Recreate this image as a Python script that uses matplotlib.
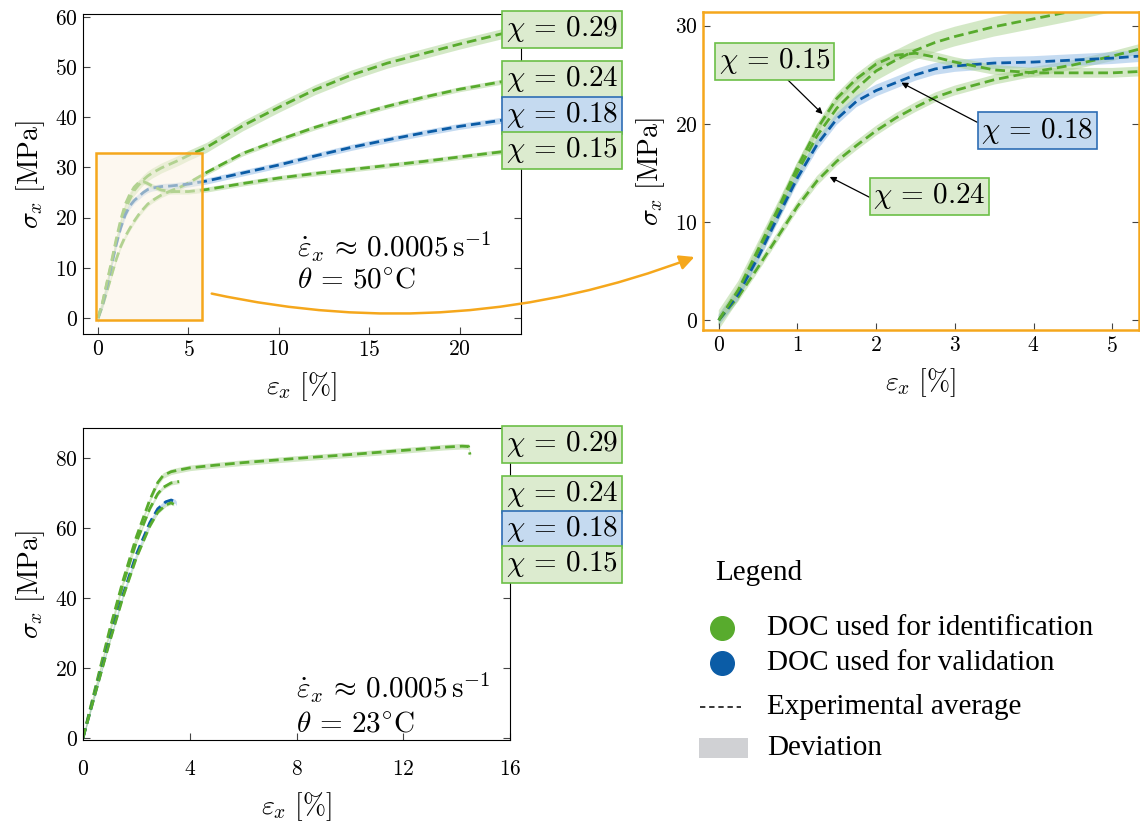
import matplotlib
matplotlib.use("Agg")
import matplotlib.pyplot as plt
from matplotlib.patches import Rectangle, FancyArrowPatch

plt.rcParams['font.family'] = 'serif'
plt.rcParams['font.serif'] = ['cmr10']
plt.rcParams['mathtext.fontset'] = 'cm'
plt.rcParams['axes.formatter.use_mathtext'] = True

# ---- data, theta = 50 C (strain in %, stress in MPa)
eps50 = [0, 0.25, 0.5, 0.75, 1.0, 1.25, 1.5, 1.75, 2.0, 2.25, 2.5, 2.75, 3.0,
         3.5, 4.0, 4.5, 5.0, 6, 8, 10, 12, 14, 16, 18, 20, 22.5]
sig50_029 = [0, 3.0, 7.0, 11.0, 15.1, 18.8, 21.6, 23.6, 25.4, 26.5, 27.5, 28.3, 28.9,
             29.9, 30.7, 31.5, 32.4, 34.0, 38.3, 42.0, 45.5, 48.4, 50.8, 52.7, 54.6, 56.8]
sig50_024 = [0, 2.4, 5.4, 8.5, 11.6, 14.2, 16.2, 17.8, 19.3, 20.6, 21.7, 22.7, 23.4,
             24.5, 25.3, 26.0, 26.9, 29.0, 32.8, 35.5, 38.0, 40.2, 42.2, 44.0, 45.6, 47.2]
sig50_018 = [0, 2.7, 6.4, 10.5, 14.5, 17.9, 20.5, 22.3, 23.4, 24.2, 25.0, 25.6, 25.9,
             26.2, 26.3, 26.5, 26.7, 27.3, 28.9, 30.5, 32.3, 34.0, 35.5, 36.9, 38.2, 39.5]
sig50_015 = [0, 3.1, 7.2, 11.3, 15.6, 19.5, 22.6, 24.6, 26.1, 27.0, 27.2, 26.8, 26.3,
             25.5, 25.2, 25.2, 25.2, 25.6, 26.8, 27.9, 28.8, 29.6, 30.4, 31.2, 32.1, 33.2]

# ---- data, theta = 23 C
eps23_029 = [0, 0.5, 1.0, 1.5, 2.0, 2.5, 2.8, 3.0, 3.3, 3.6, 4.0, 5, 6, 8, 10, 12,
             13.5, 14.2, 14.45, 14.5]
sig23_029 = [0, 15.5, 31.0, 45.0, 57.5, 68.0, 73.0, 75.0, 76.1, 76.6, 77.2, 78.0, 78.7,
             79.9, 81.0, 82.2, 83.1, 83.4, 83.3, 81.0]
eps23_024 = [0, 0.5, 1.0, 1.5, 2.0, 2.5, 2.8, 3.0, 3.3, 3.6]
sig23_024 = [0, 15.0, 30.0, 44.0, 56.0, 65.5, 69.8, 71.6, 72.9, 73.3]
eps23_018 = [0, 0.5, 1.0, 1.5, 2.0, 2.5, 2.8, 3.1, 3.3, 3.45, 3.5]
sig23_018 = [0, 14.0, 28.0, 41.0, 52.5, 61.5, 65.5, 67.5, 68.0, 67.6, 67.0]
eps23_015 = [0, 0.5, 1.0, 1.5, 2.0, 2.5, 2.8, 3.1, 3.3, 3.4]
sig23_015 = [0, 13.8, 27.5, 40.3, 51.5, 60.5, 64.5, 66.6, 67.2, 66.8]

chi_labels = ["0.29", "0.24", "0.18", "0.15"]
dev50 = [1.0, 0.5, 0.6, 0.5]
dev23 = [0.8, 0.6, 0.6, 0.5]

green = '#58ab2d'
blue = '#0b5ca6'
green_band = '#a9d28e'
blue_band = '#8db8e5'
orange = '#f5a71c'
colors = [green, green, blue, green]
bands = [green_band, green_band, blue_band, green_band]

fig = plt.figure(figsize=(11.4, 8.27), dpi=100)
W, H = 1140, 827


def px_axes(x0, y0, x1, y1):
    return fig.add_axes([x0 / W, 1 - y1 / H, (x1 - x0) / W, (y1 - y0) / H])


def draw(ax, xs, ys, devs):
    for x, y, d, c, b in zip(xs, ys, devs, colors, bands):
        lo = [v - d for v in y]
        hi = [v + d for v in y]
        ax.fill_between(x, lo, hi, color=b, alpha=0.5, lw=0)
        ax.plot(x, y, color=c, lw=2.0, dashes=(3.5, 1.8))


def style(ax, sp_color='k', xpad=4):
    ax.tick_params(direction='in', labelsize=15.5, right=True, length=5,
                   color='#444444')
    ax.tick_params(axis='x', pad=xpad)
    for s in ax.spines.values():
        s.set_color(sp_color)
    ax.set_xlabel(r'$\varepsilon_x\ [\%]$', fontsize=20, labelpad=8)
    ax.set_ylabel(r'$\sigma_x\ [\mathrm{MPa}]$', fontsize=20, labelpad=6)


def chi(lab):
    return r'$\chi\,=\,' + lab + '$'


rate_txt = r'$\dot{\varepsilon}_x\,\approx\,0.0005\,\mathrm{s}^{-1}$'

box_kw_g = dict(boxstyle='square,pad=0.12', fc='#dcebcf', ec='#6cbf47', lw=1.2)
box_kw_b = dict(boxstyle='square,pad=0.12', fc='#c5daf0', ec='#2e6db4', lw=1.2)
box_kws = [box_kw_g, box_kw_g, box_kw_b, box_kw_g]

# ---- top left
ax1 = px_axes(83, 14, 521, 334)
x50 = [eps50] * 4
y50 = [sig50_029, sig50_024, sig50_018, sig50_015]
draw(ax1, x50, y50, dev50)
ax1.set_xlim(-0.83, 23.4)
ax1.set_ylim(-3.2, 60.6)
ax1.set_xticks([0, 5, 10, 15, 20])
ax1.set_yticks([0, 10, 20, 30, 40, 50, 60])
style(ax1)
ax1.add_patch(Rectangle((-0.1, -0.4), 5.85, 33.3, fc='#fdf3e4', alpha=0.55,
                        ec='none', zorder=3))
ax1.add_patch(Rectangle((-0.1, -0.4), 5.85, 33.3, fc='none', ec=orange,
                        lw=1.8, zorder=3.1))
ax1.text(11.0, 12.2, rate_txt, fontsize=21, va='baseline')
ax1.text(11.0, 6.0, r'$\theta\,=\,50^{\circ}\mathrm{C}$', fontsize=21, va='baseline')

for lab, yy, kw in zip(chi_labels, [29, 79, 115, 150], box_kws):
    fig.text(562 / W, 1 - yy / H, chi(lab), fontsize=21,
             ha='center', va='center', bbox=kw)

# ---- top right (zoom)
ax2 = px_axes(703, 12, 1139, 330)
draw(ax2, x50, y50, dev50)
ax2.set_xlim(-0.2, 5.34)
ax2.set_ylim(-1.0, 31.4)
ax2.set_xticks([0, 1, 2, 3, 4, 5])
ax2.set_yticks([0, 10, 20, 30])
style(ax2, orange)
for s in ax2.spines.values():
    s.set_linewidth(1.8)
arr = dict(arrowstyle='-|>', color='k', lw=0.9, mutation_scale=9, shrinkA=0, shrinkB=0)
ax2.annotate(chi('0.15'), xy=(1.32, 21.0), xytext=(0.71, 26.4), fontsize=21,
             ha='center', va='center', bbox=box_kw_g,
             arrowprops=dict(arr, relpos=(0.61, -0.1)))
ax2.annotate(chi('0.18'), xy=(2.32, 24.2), xytext=(4.05, 19.3), fontsize=21,
             ha='center', va='center', bbox=box_kw_b,
             arrowprops=dict(arr, relpos=(-0.03, 0.77)))
ax2.annotate(chi('0.24'), xy=(1.41, 14.6), xytext=(2.68, 12.65), fontsize=21,
             ha='center', va='center', bbox=box_kw_g,
             arrowprops=dict(arr, relpos=(-0.03, 0.45)))

# ---- bottom left
ax3 = px_axes(83, 428, 510, 740)
draw(ax3, [eps23_029, eps23_024, eps23_018, eps23_015],
     [sig23_029, sig23_024, sig23_018, sig23_015], dev23)
ax3.set_xlim(0, 16)
ax3.set_ylim(-0.6, 88.6)
ax3.set_xticks([0, 4, 8, 12, 16])
ax3.set_yticks([0, 20, 40, 60, 80])
style(ax3, xpad=14)
ax3.text(8.0, 11.3, rate_txt, fontsize=21, va='baseline')
ax3.text(8.0, 1.8, r'$\theta\,=\,23^{\circ}\mathrm{C}$', fontsize=21, va='baseline')

for lab, yy, kw in zip(chi_labels, [444, 494, 529, 564], box_kws):
    fig.text(562 / W, 1 - yy / H, chi(lab), fontsize=21,
             ha='center', va='center', bbox=kw)

# ---- overlay: connector arrow and legend (pixel coordinates)
ov = fig.add_axes([0, 0, 1, 1])
ov.set_xlim(0, W)
ov.set_ylim(H, 0)
ov.axis('off')
ov.add_patch(FancyArrowPatch((209, 293), (697, 256), connectionstyle='arc3,rad=0.15',
                             arrowstyle='-|>', mutation_scale=22, color=orange, lw=1.8))

leg_font = dict(family='Liberation Serif', fontsize=21)
ov.text(715, 573, 'Legend', va='center', **leg_font)
ov.plot([722], [628], 'o', ms=17, color=green)
ov.plot([722], [663], 'o', ms=17, color=blue)
ov.plot([700, 741], [707, 707], color='k', lw=1.1, dashes=(3.5, 2.5))
ov.add_patch(Rectangle((699, 738), 49, 20, fc='#d0d1d4', ec='none'))
for txt, yy in zip(['DOC used for identification', 'DOC used for validation',
                    'Experimental average', 'Deviation'], [628, 663, 707, 748]):
    ov.text(767, yy, txt, va='center', **leg_font)

fig.savefig('out.png', dpi=100)
